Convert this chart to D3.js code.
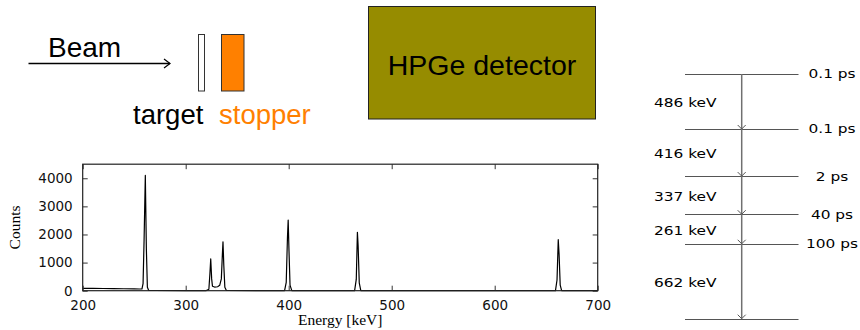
<!DOCTYPE html>
<html>
<head>
<meta charset="utf-8">
<script src="https://cdn.jsdelivr.net/npm/d3@7"></script>
<style>
  body { margin: 0; background: #fff; }
  svg { display: block; }
</style>
</head>
<body>
<div id="chart"></div>
<script>
// spectrum (energy in keV, counts)
const energy = [200, 210, 220, 230, 240, 250, 255, 257.5,
  258.6, 259.6, 260.8, 261.8, 262.8, 264, 270, 300, 320,
  322.5, 323.5, 324.3, 325.2, 326, 328, 331, 333, 334.6, 335.5, 336.2, 337, 338, 339.5,
  370, 396, 397.6, 398.8, 399.5, 400.3, 401.3, 403,
  430, 464, 465.6, 466.7, 467.4, 468.5, 470,
  560, 659, 660.5, 661.7, 662.5, 663.6, 665, 700];
const counts = [85, 80, 78, 74, 70, 65, 60, 60,
  250, 1800, 4100, 1500, 120, 15, 8, 6, 5,
  50, 600, 1130, 420, 160, 130, 140, 190, 420, 1200, 1740, 900, 120, 8,
  5, 5, 300, 1900, 2515, 1400, 200, 5,
  4, 5, 400, 2080, 1600, 280, 4,
  3, 4, 380, 1815, 1300, 200, 4, 3];
const xTicks = [200, 300, 400, 500, 600, 700];
const yTicks = [0, 1000, 2000, 3000, 4000];

// decay scheme
const levelEnergies = [2162, 1676, 1260, 923, 662, 0];
const lifetimes = ['0.1 ps', '0.1 ps', '2 ps', '40 ps', '100 ps', ''];
const transitions = ['486 keV', '416 keV', '337 keV', '261 keV', '662 keV'];

const width = 860, height = 330;
const svg = d3.select('#chart').append('svg')
  .attr('width', width)
  .attr('height', height);

// ---- setup sketch ----
const sketch = svg.append('g').attr('font-family', '"Liberation Sans", Arial, sans-serif');

sketch.append('line')
  .attr('x1', 28.5).attr('y1', 63.5).attr('x2', 170).attr('y2', 63.5)
  .attr('stroke', '#000').attr('stroke-width', 1.3);
sketch.append('path')
  .attr('d', 'M164,59 L170,63.5 L164,68')
  .attr('fill', 'none').attr('stroke', '#000').attr('stroke-width', 1.2);
sketch.append('text')
  .attr('x', 48).attr('y', 56.5)
  .attr('font-size', 28)
  .text('Beam');

sketch.append('rect')
  .attr('x', 198.5).attr('y', 34.5).attr('width', 6).attr('height', 56.5)
  .attr('fill', '#fff').attr('stroke', '#333').attr('stroke-width', 1);
sketch.append('rect')
  .attr('x', 221.5).attr('y', 34.5).attr('width', 22.5).attr('height', 56.5)
  .attr('fill', '#ff8000').attr('stroke', '#333').attr('stroke-width', 1);

const lbl = sketch.append('text').attr('y', 123.5).attr('font-size', 27.5);
lbl.append('tspan').attr('x', 133).attr('fill', '#000').text('target');
lbl.append('tspan').attr('x', 219).attr('fill', '#ff8000').text('stopper');

sketch.append('rect')
  .attr('x', 368.5).attr('y', 6.5).attr('width', 227).attr('height', 112.5)
  .attr('fill', '#968c00').attr('stroke', '#222').attr('stroke-width', 1);
sketch.append('text')
  .attr('x', 482).attr('y', 75)
  .attr('text-anchor', 'middle')
  .attr('font-size', 28.5)
  .text('HPGe detector');

// ---- spectrum ----
const x = d3.scaleLinear().domain([200, 700]).range([82.7, 597.7]);
const y = d3.scaleLinear().domain([0, 4500]).range([290.7, 164.2]);

const plot = svg.append('g');
const tickFont = '"DejaVu Sans", Verdana, sans-serif';

const line = d3.line()
  .x((d, i) => x(energy[i]))
  .y(d => y(d));

plot.append('path')
  .datum(counts)
  .attr('d', line)
  .attr('fill', 'none')
  .attr('stroke', '#000')
  .attr('stroke-width', 1.2)
  .attr('stroke-linejoin', 'round');

const styleAxis = g => {
  g.select('.domain').remove();
  g.selectAll('.tick line').attr('stroke', '#333');
  g.selectAll('.tick text').attr('font-family', tickFont).attr('font-size', 13.5).attr('fill', '#111');
};

plot.append('g')
  .attr('transform', `translate(0,${y(0)})`)
  .call(d3.axisBottom(x).tickValues(xTicks).tickSizeInner(-5).tickSizeOuter(0).tickPadding(10).tickFormat(d3.format('d')))
  .call(styleAxis);
plot.append('g')
  .attr('transform', `translate(0,${y(4500)})`)
  .call(d3.axisTop(x).tickValues(xTicks).tickSizeInner(-5).tickSizeOuter(0).tickFormat(''))
  .call(styleAxis);
plot.append('g')
  .attr('transform', `translate(${x(200)},0)`)
  .call(d3.axisLeft(y).tickValues(yTicks).tickSizeInner(-5).tickSizeOuter(0).tickPadding(10).tickFormat(d3.format('d')))
  .call(styleAxis);
plot.append('g')
  .attr('transform', `translate(${x(700)},0)`)
  .call(d3.axisRight(y).tickValues(yTicks).tickSizeInner(-5).tickSizeOuter(0).tickFormat(''))
  .call(styleAxis);

plot.append('rect')
  .attr('x', x(200)).attr('y', y(4500))
  .attr('width', x(700) - x(200)).attr('height', y(0) - y(4500))
  .attr('fill', 'none').attr('stroke', '#222').attr('stroke-width', 1.2);

plot.append('text')
  .attr('x', (x(200) + x(700)) / 2)
  .attr('y', 325)
  .attr('text-anchor', 'middle')
  .attr('font-family', '"Liberation Serif", "Times New Roman", serif')
  .attr('font-size', 15.5)
  .text('Energy [keV]');
plot.append('text')
  .attr('transform', `translate(19.5,${(y(0) + y(4500)) / 2}) rotate(-90)`)
  .attr('text-anchor', 'middle')
  .attr('font-family', '"Liberation Serif", "Times New Roman", serif')
  .attr('font-size', 15.5)
  .text('Counts');

// ---- level scheme ----
const ly = d3.scaleLinear().domain([0, 2162]).range([318.7, 74]);
const lx0 = 685, lx1 = 798.5, ax = 741.7, stretch = 1.22;
const scheme = svg.append('g').attr('font-family', tickFont).attr('font-size', 12.6);

scheme.selectAll('line.level')
  .data(levelEnergies)
  .join('line')
  .attr('class', 'level')
  .attr('x1', lx0).attr('x2', lx1)
  .attr('y1', d => Math.round(ly(d)) + 0.5).attr('y2', d => Math.round(ly(d)) + 0.5)
  .attr('stroke', '#555').attr('stroke-width', 1.2);

scheme.append('line')
  .attr('x1', ax).attr('x2', ax)
  .attr('y1', ly(levelEnergies[0])).attr('y2', ly(0))
  .attr('stroke', '#707070').attr('stroke-width', 1.5);

scheme.selectAll('path.head')
  .data(levelEnergies.slice(1))
  .join('path')
  .attr('class', 'head')
  .attr('d', d => `M${ax - 4},${ly(d) - 4} L${ax},${ly(d)} L${ax + 4},${ly(d) - 4}`)
  .attr('fill', 'none').attr('stroke', '#555').attr('stroke-width', 1);

scheme.selectAll('text.life')
  .data(lifetimes)
  .join('text')
  .attr('class', 'life')
  .attr('transform', (d, i) => `translate(832,${ly(levelEnergies[i])}) scale(${stretch},1)`)
  .attr('dy', '0.35em')
  .attr('text-anchor', 'middle')
  .attr('fill', '#000')
  .text(d => d);

scheme.selectAll('text.trans')
  .data(transitions)
  .join('text')
  .attr('class', 'trans')
  .attr('transform', (d, i) => `translate(654,${(ly(levelEnergies[i]) + ly(levelEnergies[i + 1])) / 2 + 1.5}) scale(${stretch},1)`)
  .attr('dy', '0.35em')
  .attr('fill', '#000')
  .text(d => d);
</script>
</body>
</html>
